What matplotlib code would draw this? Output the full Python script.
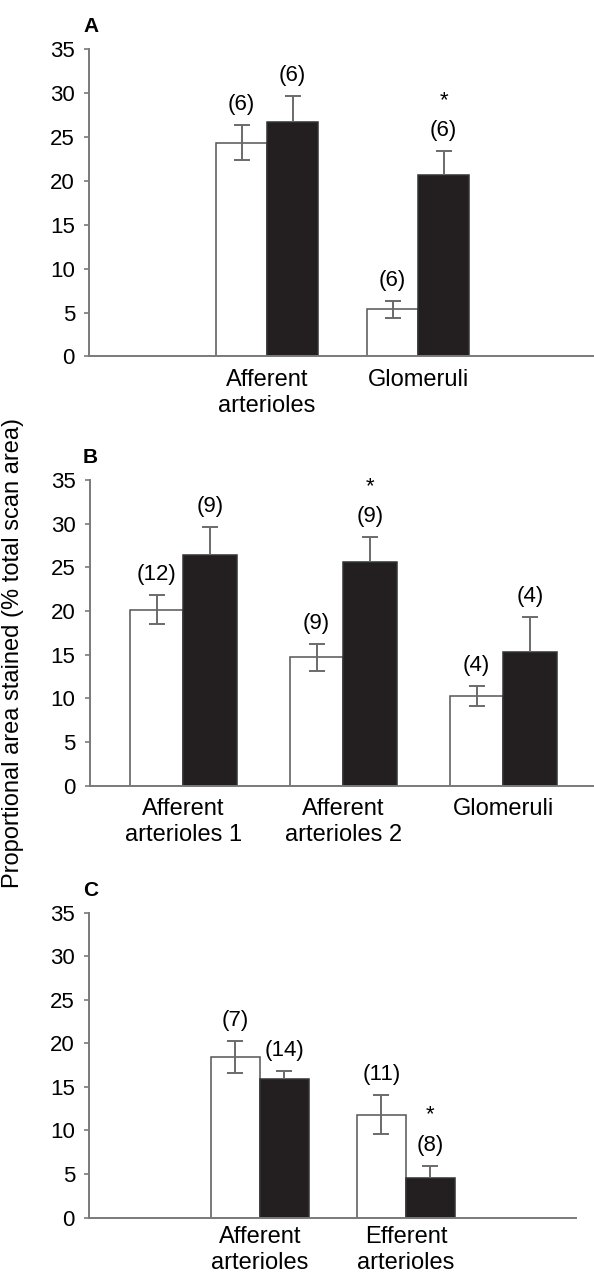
import numpy as np
import matplotlib
matplotlib.use("Agg")
import matplotlib.pyplot as plt

plt.rcParams['font.family'] = ['Liberation Sans', 'DejaVu Sans']

# panel A
a_categories = ["Afferent\narterioles", "Glomeruli"]
a_white = [24.35, 5.35]
a_white_err = [1.95, 0.95]
a_black = [26.7, 20.7]
a_black_err = [3.0, 2.7]
a_white_n = ["(6)", "(6)"]
a_black_n = ["(6)", "(6)"]
a_black_sig = [False, True]

# panel B
b_categories = ["Afferent\narterioles 1", "Afferent\narterioles 2", "Glomeruli"]
b_white = [20.15, 14.67, 10.26]
b_white_err = [1.65, 1.5, 1.15]
b_black = [26.46, 25.6, 15.3]
b_black_err = [3.1, 2.83, 4.0]
b_white_n = ["(12)", "(9)", "(4)"]
b_black_n = ["(9)", "(9)", "(4)"]
b_black_sig = [False, True, False]

# panel C
c_categories = ["Afferent\narterioles", "Efferent\narterioles"]
c_white = [18.44, 11.82]
c_white_err = [1.85, 2.25]
c_black = [15.95, 4.51]
c_black_err = [0.88, 1.45]
c_white_n = ["(7)", "(11)"]
c_black_n = ["(14)", "(8)"]
c_black_sig = [False, True]

yticks = [0, 5, 10, 15, 20, 25, 30, 35]

W, H = 594, 1275
AXIS_GREY = '#7a7a7a'
ERR_GREY = '#6a6a6a'


def draw_panel(rect, xlim, width, letter, cats, white, white_err, black, black_err,
               white_n, black_n, black_sig, xpad=9, xls=1.25):
    left, top, right, bottom = rect
    ax = fig.add_axes([left / W, 1 - bottom / H, (right - left) / W, (bottom - top) / H])
    x = np.arange(len(cats))
    xw = x - width / 2
    xb = x + width / 2
    ax.bar(xw, white, width, color='white', edgecolor='#555555', linewidth=1.1, zorder=2)
    ax.bar(xb, black, width, color='#231f20', edgecolor='#333333', linewidth=1.1, zorder=2)

    ax.errorbar(xw, white, yerr=white_err, fmt='none', ecolor=ERR_GREY,
                elinewidth=1.4, capsize=6, capthick=1.4, zorder=3)
    # black bars: upper error only
    eb = ax.errorbar(xb, black, yerr=[np.zeros(len(black)), black_err], fmt='none',
                     ecolor=ERR_GREY, elinewidth=1.4, capsize=6, capthick=1.4, zorder=3)
    eb.lines[1][0].set_visible(False)

    for i in range(len(cats)):
        tw = white[i] + white_err[i]
        tb = black[i] + black_err[i]
        ax.annotate(white_n[i], xy=(xw[i], tw), xytext=(0, 14.8), textcoords='offset points',
                    ha='center', va='center', fontsize=16, annotation_clip=False)
        ax.annotate(black_n[i], xy=(xb[i], tb), xytext=(0, 14.8), textcoords='offset points',
                    ha='center', va='center', fontsize=16, annotation_clip=False)
        if black_sig[i]:
            ax.annotate("*", xy=(xb[i], tb), xytext=(0, 32.4), textcoords='offset points',
                        ha='center', va='baseline', fontsize=16, annotation_clip=False)

    ax.set_xlim(*xlim)
    ax.set_ylim(0, 35)
    ax.set_yticks(yticks)
    ax.set_xticks(x)
    ax.set_xticklabels(cats, fontsize=17, linespacing=xls)
    ax.tick_params(axis='x', length=0, pad=xpad)
    ax.tick_params(axis='y', length=3.6, width=1.2, color=AXIS_GREY, labelsize=16, pad=6.5)
    for s in ['top', 'right']:
        ax.spines[s].set_visible(False)
    for s in ['left', 'bottom']:
        ax.spines[s].set_color(AXIS_GREY)
        ax.spines[s].set_linewidth(1.4)
    ax.patch.set_alpha(0)
    fig.text(83 / W, 1 - (top - 17) / H, letter, fontsize=15, fontweight='bold',
             ha='left', va='baseline')
    return ax


fig = plt.figure(figsize=(W / 100, H / 100), dpi=100)

draw_panel((89, 49, 594, 356.5), (-1.179, 2.165), 0.338, "A", a_categories,
           a_white, a_white_err, a_black, a_black_err, a_white_n, a_black_n, a_black_sig)
draw_panel((89.5, 480, 594, 785.5), (-0.586, 2.567), 0.334, "B", b_categories,
           b_white, b_white_err, b_black, b_black_err, b_white_n, b_black_n, b_black_sig)
draw_panel((89, 912.7, 576, 1217.5), (-1.171, 2.165), 0.336, "C", c_categories,
           c_white, c_white_err, c_black, c_black_err, c_white_n, c_black_n, c_black_sig,
           xpad=6.3, xls=1.2)

fig.text(13 / W, 1 - 653 / H, "Proportional area stained (% total scan area)",
         rotation=90, ha='center', va='center', fontsize=17)

fig.savefig("out.png", dpi=100)
plt.close(fig)
